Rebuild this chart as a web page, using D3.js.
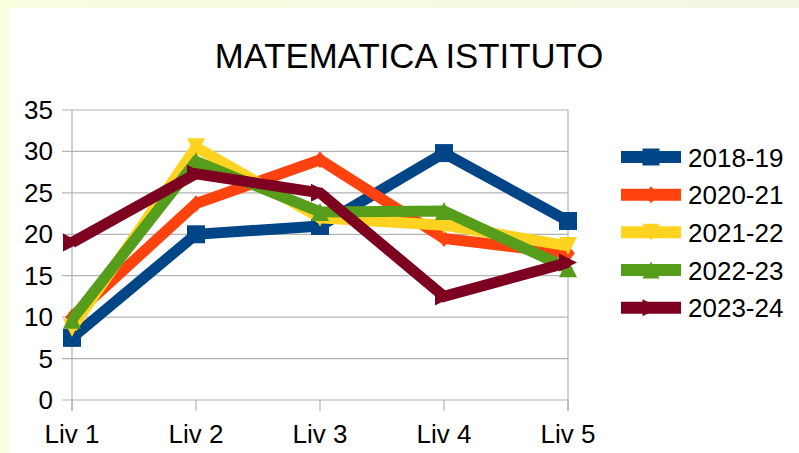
<!DOCTYPE html>
<html>
<head>
<meta charset="utf-8">
<script src="https://cdn.jsdelivr.net/npm/d3@7"></script>
<style>
  html, body { margin: 0; padding: 0; }
  body { width: 799px; height: 453px; overflow: hidden; }
  svg { display: block; font-family: "Liberation Sans", Arial, sans-serif; }
</style>
</head>
<body>
<svg id="chart" width="799" height="453"></svg>
<script>
// data
var levels = ["Liv 1", "Liv 2", "Liv 3", "Liv 4", "Liv 5"];
var years = ["2018-19", "2020-21", "2021-22", "2022-23", "2023-24"];
var v2018 = [7.5, 20, 21, 29.8, 21.6];
var v2020 = [10, 23.7, 29, 19.5, 17.7];
var v2021 = [8.7, 30.5, 22, 21.1, 18.6];
var v2022 = [9.7, 28.8, 22.7, 22.8, 15.9];
var v2023 = [19, 27.3, 25, 12.5, 16.6];
var yTicks = [0, 5, 10, 15, 20, 25, 30, 35];

var colors = ["#004586", "#ff420e", "#ffd320", "#579d1c", "#7e0021"];
var shapes = ["square", "diamond", "down", "up", "right"];
var series = [v2018, v2020, v2021, v2022, v2023].map(function (vals, i) {
  return { name: years[i], color: colors[i], shape: shapes[i],
    points: vals.map(function (v, j) { return { x: levels[j], y: v }; }) };
});

var svg = d3.select("#chart");

// background + white panel
var defs = svg.append("defs");
var grad = defs.append("linearGradient").attr("id", "bg").attr("x1", "0").attr("x2", "1").attr("y1", "0").attr("y2", "0");
grad.append("stop").attr("offset", "0").attr("stop-color", "#fbfddf");
grad.append("stop").attr("offset", "1").attr("stop-color", "#f2f6e2");
svg.append("rect").attr("width", 799).attr("height", 453).attr("fill", "url(#bg)");
svg.append("rect").attr("x", 9).attr("y", 8).attr("width", 790).attr("height", 445).attr("fill", "#ffffff");

var plotL = 72, plotR = 568, plotT = 110, plotB = 400;
var xScale = d3.scalePoint().domain(levels).range([plotL, plotR]).padding(0);
var yScale = d3.scaleLinear().domain([0, 35]).range([plotB, plotT]);

// title
svg.append("text")
  .attr("x", 409).attr("y", 68)
  .attr("text-anchor", "middle")
  .style("font-size", "34.8px")
  .attr("fill", "#000")
  .text("MATEMATICA ISTITUTO");

var grid = svg.append("g");
// horizontal gridlines incl. left tick stubs
grid.selectAll(".h").data(yTicks).enter().append("line")
  .attr("x1", plotL - 10).attr("x2", plotR)
  .attr("y1", function (d) { return yScale(d); })
  .attr("y2", function (d) { return yScale(d); })
  .attr("stroke", "#b3b3b3").attr("stroke-width", 1.2);
// y axis and right border
grid.append("line").attr("x1", plotL).attr("x2", plotL).attr("y1", plotT).attr("y2", plotB + 11)
  .attr("stroke", "#b3b3b3").attr("stroke-width", 1.2);
grid.append("line").attr("x1", plotR).attr("x2", plotR).attr("y1", plotT).attr("y2", plotB + 11)
  .attr("stroke", "#b3b3b3").attr("stroke-width", 1.2);
// x tick marks
grid.selectAll(".xt").data(levels).enter().append("line")
  .attr("x1", function (d) { return xScale(d); })
  .attr("x2", function (d) { return xScale(d); })
  .attr("y1", plotB).attr("y2", plotB + 11)
  .attr("stroke", "#b3b3b3").attr("stroke-width", 1.2);

// y labels
svg.append("g").selectAll("text").data(yTicks).enter().append("text")
  .attr("x", 53)
  .attr("y", function (d) { return yScale(d) + 9; })
  .attr("text-anchor", "end")
  .style("font-size", "26px")
  .text(function (d) { return d; });

// x labels
svg.append("g").selectAll("text").data(levels).enter().append("text")
  .attr("x", function (d) { return xScale(d); })
  .attr("y", 443)
  .attr("text-anchor", "middle")
  .style("font-size", "26px")
  .text(function (d) { return d; });

function markerPath(shape, s) {
  var h = s / 2;
  if (shape == "square") return "M" + (-h) + "," + (-h) + "H" + h + "V" + h + "H" + (-h) + "Z";
  if (shape == "diamond") return "M0," + (-h) + "L" + (h * 0.8) + ",0L0," + h + "L" + (-h * 0.8) + ",0Z";
  if (shape == "down") return "M" + (-h) + "," + (-h) + "L" + h + "," + (-h) + "L0," + h + "Z";
  if (shape == "up") return "M" + (-h) + "," + h + "L" + h + "," + h + "L0," + (-h) + "Z";
  return "M" + (-h) + "," + (-h) + "L" + h + ",0L" + (-h) + "," + h + "Z";
}

var line = d3.line()
  .x(function (d) { return xScale(d.x); })
  .y(function (d) { return yScale(d.y); });

series.forEach(function (s) {
  var g = svg.append("g");
  g.append("path")
    .datum(s.points)
    .attr("d", line)
    .attr("fill", "none")
    .attr("stroke", s.color)
    .attr("stroke-width", 11)
    .attr("stroke-linejoin", "miter");
  g.selectAll(".m").data(s.points).enter().append("path")
    .attr("transform", function (d) { return "translate(" + xScale(d.x) + "," + yScale(d.y) + ")"; })
    .attr("d", markerPath(s.shape, s.shape == "diamond" ? 17 : 18))
    .attr("fill", s.color);
});

// legend
var legend = svg.append("g");
var rowY = d3.scalePoint().domain(years).range([157, 307.7]);
series.forEach(function (s) {
  var y = rowY(s.name);
  legend.append("line")
    .attr("x1", 621).attr("x2", 681).attr("y1", y).attr("y2", y)
    .attr("stroke", s.color).attr("stroke-width", 12);
  legend.append("path")
    .attr("transform", "translate(651," + y + ")")
    .attr("d", markerPath(s.shape, 17))
    .attr("fill", s.color);
  legend.append("text")
    .attr("x", 688).attr("y", y + 9.5)
    .style("font-size", "26px")
    .text(s.name);
});
</script>
</body>
</html>
